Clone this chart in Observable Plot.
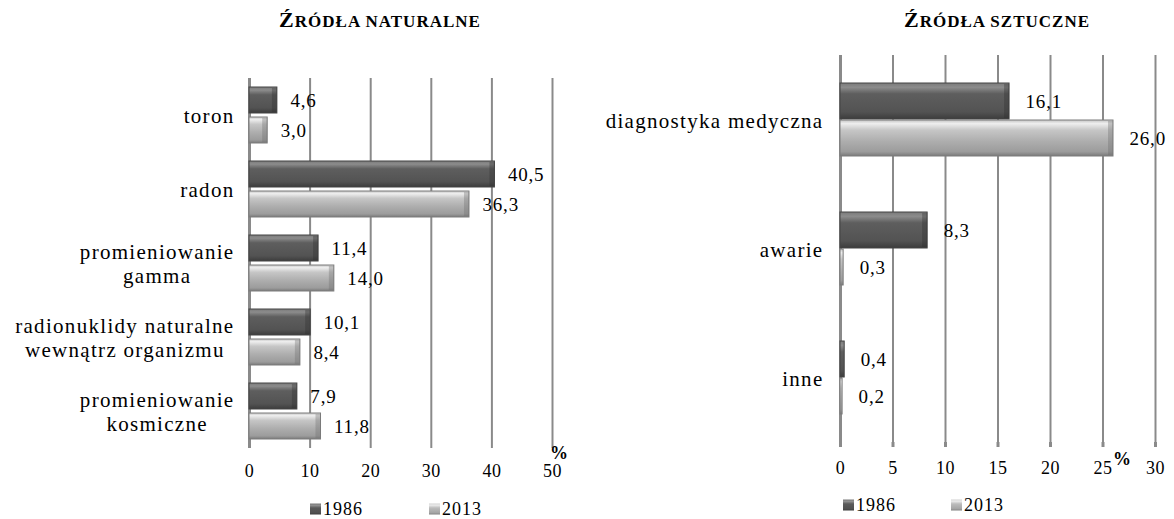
<!DOCTYPE html>
<html>
<head>
<meta charset="utf-8">
<script src="https://cdn.jsdelivr.net/npm/d3@7"></script>
<script src="https://cdn.jsdelivr.net/npm/@observablehq/plot@0.6"></script>
<style>
  html, body { margin: 0; padding: 0; background: #fff; }
  body { width: 1174px; height: 519px; position: relative; overflow: hidden; font-family: "Liberation Serif", "Times New Roman", serif; }
  .abs { position: absolute; }
  .title { font-weight: bold; letter-spacing: 1px; white-space: nowrap; transform: translateX(-50%); color: #000; }
  .title .big { font-size: 22px; }
  .title .small { font-size: 17px; }
  .pct { font-weight: bold; font-size: 18px; transform: translate(-50%, -50%); }
  .leg { font-size: 18px; letter-spacing: 1px; white-space: nowrap; transform: translateY(-50%); display: flex; align-items: center; }
  .sw { display: inline-block; width: 11px; height: 11px; margin-right: 2px; }
  .sw86 { background: linear-gradient(#7a7a7a, #8e8e8e 18%, #5a5a5a 40%, #505050 85%, #3c3c3c); }
  .sw13 { background: linear-gradient(#d0d0d0, #ececec 15%, #bcbcbc 40%, #a4a4a4 85%, #808080); }
  svg text { font-family: "Liberation Serif", "Times New Roman", serif; }
  [aria-label="fy-axis tick label"] text { letter-spacing: 1.3px; }
  [aria-label="x-axis tick label"] text { letter-spacing: 0.5px; }
  .vlab text { letter-spacing: 0.8px; }
</style>
</head>
<body>
<svg width="0" height="0" style="position:absolute">
  <defs>
    <linearGradient id="g86" x1="0" y1="0" x2="0" y2="1">
      <stop offset="0" stop-color="#7a7a7a"/>
      <stop offset="0.12" stop-color="#8c8c8c"/>
      <stop offset="0.3" stop-color="#5e5e5e"/>
      <stop offset="0.8" stop-color="#535353"/>
      <stop offset="1" stop-color="#3c3c3c"/>
    </linearGradient>
    <linearGradient id="g13" x1="0" y1="0" x2="0" y2="1">
      <stop offset="0" stop-color="#c4c4c4"/>
      <stop offset="0.1" stop-color="#eeeeee"/>
      <stop offset="0.28" stop-color="#c6c6c6"/>
      <stop offset="0.6" stop-color="#adadad"/>
      <stop offset="0.88" stop-color="#9c9c9c"/>
      <stop offset="1" stop-color="#7a7a7a"/>
    </linearGradient>
  </defs>
</svg>

<div class="abs title" style="left:380px; top:7px;"><span class="big">Ź</span><span class="small">RÓDŁA NATURALNE</span></div>
<div class="abs title" style="left:997px; top:7px;"><span class="big">Ź</span><span class="small">RÓDŁA SZTUCZNE</span></div>

<div id="left" class="abs" style="left:0px; top:50px;"></div>
<div id="right" class="abs" style="left:600px; top:50px;"></div>

<div class="abs pct" style="left:559px; top:453px;">%</div>
<div class="abs pct" style="left:1122px; top:459px;">%</div>

<div class="abs leg" style="left:310px; top:509px;"><span class="sw sw86"></span>1986</div>
<div class="abs leg" style="left:429px; top:509px;"><span class="sw sw13"></span>2013</div>
<div class="abs leg" style="left:843px; top:505px;"><span class="sw sw86"></span>1986</div>
<div class="abs leg" style="left:951px; top:505px;"><span class="sw sw13"></span>2013</div>

<script>
// ---- Data ----
const years = ["1986", "2013"];

const naturalCategories = [
  "toron",
  "radon",
  "promieniowanie\ngamma",
  "radionuklidy naturalne\nwewnątrz organizmu",
  "promieniowanie\nkosmiczne"
];
const natural1986 = [4.6, 40.5, 11.4, 10.1, 7.9];
const natural2013 = [3.0, 36.3, 14.0, 8.4, 11.8];
const naturalTicks = [0, 10, 20, 30, 40, 50];

const artificialCategories = ["diagnostyka medyczna", "awarie", "inne"];
const artificial1986 = [16.1, 8.3, 0.4];
const artificial2013 = [26.0, 0.3, 0.2];
const artificialTicks = [0, 5, 10, 15, 20, 25, 30];

// ---- Helpers ----
const fmt = v => v.toFixed(1).replace(".", ",");
function rows(cats, a, b) {
  const out = [];
  cats.forEach((c, i) => {
    out.push({cat: c, year: years[0], value: a[i]});
    out.push({cat: c, year: years[1], value: b[i]});
  });
  return out;
}

function makeChart(cfg) {
  const data = rows(cfg.cats, cfg.a, cfg.b);
  const d86 = data.filter(d => d.year === "1986");
  const d13 = data.filter(d => d.year === "2013");
  const ticks = cfg.ticks;
  const big = d => d.value >= 1;
  return Plot.plot({
    width: cfg.width,
    height: cfg.height,
    marginLeft: cfg.marginLeft,
    marginRight: cfg.marginRight,
    marginTop: cfg.marginTop,
    marginBottom: cfg.marginBottom,
    style: {fontFamily: "Liberation Serif, serif", color: "#000", background: "transparent", overflow: "visible"},
    x: {domain: [ticks[0], ticks[ticks.length - 1]]},
    y: {domain: years, paddingInner: cfg.pi, paddingOuter: cfg.po, axis: null},
    fy: {domain: cfg.cats, padding: 0},
    marks: [
      Plot.gridX(ticks.slice(1), {stroke: "#8a8a8a", strokeOpacity: 1, strokeWidth: 2}),
      Plot.ruleX([0], {stroke: "#8a8a8a", strokeWidth: 3}),
      Plot.barX(d86, {x: "value", y: "year", fy: "cat", fill: "url(#g86)", stroke: "#444", strokeWidth: 1}),
      Plot.barX(d13, {x: "value", y: "year", fy: "cat", fill: "url(#g13)", stroke: "#7c7c7c", strokeWidth: 1}),
      // bevel at the bar ends
      Plot.barX(d86.filter(big), {x1: "value", x2: "value", y: "year", fy: "cat", insetLeft: -5, insetTop: 1, insetBottom: 1,
        fill: "#2e2e2e", fillOpacity: 0.35}),
      Plot.barX(d13.filter(big), {x1: "value", x2: "value", y: "year", fy: "cat", insetLeft: -5, insetTop: 1, insetBottom: 1,
        fill: "#6e6e6e", fillOpacity: 0.35}),
      Plot.text(data, {x: "value", y: "year", fy: "cat", text: d => fmt(d.value), dx: cfg.labelDx,
        textAnchor: "start", fontSize: 19, fill: "#000", className: "vlab"}),
      Plot.axisFy({anchor: "left", tickSize: 0, tickPadding: cfg.fyPad, fontSize: 21, label: null,
        textAnchor: "end", lineHeight: 1.14}),
      Plot.axisX({ticks: ticks, tickSize: cfg.tickSize, tickPadding: cfg.tickPad, fontSize: 18, label: null,
        line: true, stroke: "#8a8a8a", strokeWidth: 3, fill: "#000", tickFormat: d => String(d)})
    ]
  });
}

function centerMultiline(svg) {
  d3.select(svg).selectAll('[aria-label="fy-axis tick label"] text').each(function() {
    const spans = this.querySelectorAll("tspan");
    if (spans.length < 2) return;
    let maxW = 0;
    spans.forEach(s => { maxW = Math.max(maxW, s.getComputedTextLength()); });
    this.setAttribute("text-anchor", "middle");
    spans.forEach(s => s.setAttribute("x", -maxW / 2));
  });
}

const left = makeChart({
  cats: naturalCategories, a: natural1986, b: natural2013, ticks: naturalTicks,
  width: 600, height: 434, marginLeft: 249, marginRight: 48, marginTop: 26, marginBottom: 35,
  pi: 0.13, po: 0.28, labelDx: 13, fyPad: 15, tickSize: 0, tickPad: 16
});
document.getElementById("left").appendChild(left);
centerMultiline(left);

const right = makeChart({
  cats: artificialCategories, a: artificial1986, b: artificial2013, ticks: artificialTicks,
  width: 574, height: 428, marginLeft: 240, marginRight: 19, marginTop: 4, marginBottom: 35,
  pi: 0.03, po: 0.72, labelDx: 16, fyPad: 17, tickSize: 5, tickPad: 14
});
document.getElementById("right").appendChild(right);
centerMultiline(right);
</script>
</body>
</html>
